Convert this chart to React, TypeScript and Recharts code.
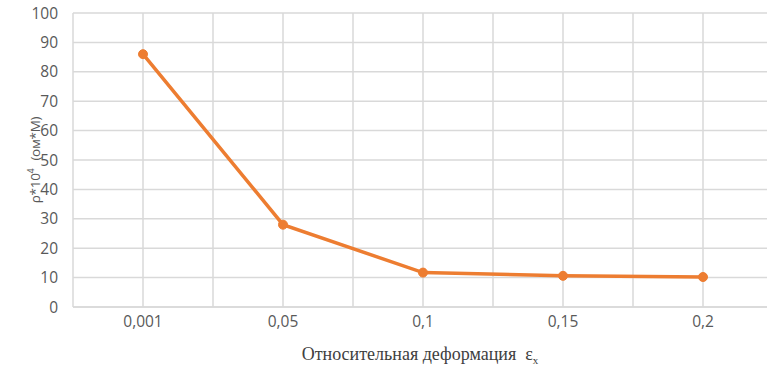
import { LineChart, Line, XAxis, YAxis, CartesianGrid, Label } from "recharts";

const categories = ["0,001", "0,05", "0,1", "0,15", "0,2"];
const rho = [86, 28, 11.7, 10.6, 10.2];
const yTicks = [0, 10, 20, 30, 40, 50, 60, 70, 80, 90, 100];

// categories sit on odd slots so the grid also gets lines between them
const data = categories.map((c, i) => ({ pos: 2 * i + 1, label: c, rho: rho[i] }));
const xTicks = Array.from({ length: categories.length * 2 + 1 }, (_, i) => i);

const GRID = "#d9d9d9";
const TICK = { fontSize: 15.5, fill: "#595959", fontFamily: "'Open Sans', sans-serif" };

export default function App() {
  return (
    <div style={{ position: "absolute", left: 0, top: 0, width: 767, height: 366, overflow: "hidden", background: "#fff" }}>
      <LineChart width={780} height={366} data={data} margin={{ top: 13, right: 7, left: 0, bottom: 29 }}>
        <CartesianGrid stroke={GRID} strokeWidth={1.5} />
        <XAxis
          type="number"
          dataKey="pos"
          domain={[0, 10]}
          ticks={xTicks}
          tickFormatter={(v: number) => (v % 2 === 1 ? categories[(v - 1) / 2] : "")}
          tick={TICK}
          tickLine={false}
          tickSize={0}
          tickMargin={9}
          axisLine={{ stroke: GRID, strokeWidth: 1.5 }}
        >
          <Label
            content={() => (
              <text x={420} y={360} textAnchor="middle" fontFamily="'Liberation Serif', serif" fontSize={18} fill="#404040">
                Относительная деформация{"\u00a0\u00a0"}ε
                <tspan fontSize={11} dy={4}>x</tspan>
              </text>
            )}
          />
        </XAxis>
        <YAxis
          width={73}
          domain={[0, 100]}
          ticks={yTicks}
          tick={TICK}
          tickLine={false}
          tickSize={0}
          tickMargin={15}
          axisLine={false}
        >
          <Label
            content={() => (
              <text
                x={40}
                y={160}
                transform="rotate(-90 40 160)"
                textAnchor="middle"
                fontFamily="'Open Sans', sans-serif"
                fontSize={13.5}
                letterSpacing={-0.3}
                fill="#595959"
              >
                ρ*10<tspan fontSize={9} dy={-6}>4</tspan>
                <tspan dy={6} dx={8}>(ом*М)</tspan>
              </text>
            )}
          />
        </YAxis>
        <Line
          type="linear"
          dataKey="rho"
          stroke="#ED7D31"
          strokeWidth={3.5}
          dot={{ r: 4.5, fill: "#ED7D31", stroke: "#ED7D31", strokeWidth: 1 }}
          isAnimationActive={false}
        />
      </LineChart>
    </div>
  );
}
